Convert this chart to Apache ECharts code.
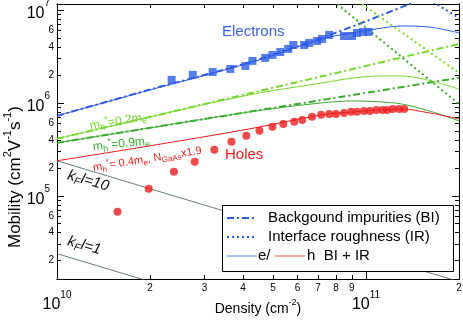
<!DOCTYPE html>
<html>
<head>
<meta charset="utf-8">
<script src="https://cdn.jsdelivr.net/npm/echarts@6.0.0/dist/echarts.min.js"></script>
<style>
  html, body { margin: 0; padding: 0; background: #fff; }
  #chart { width: 463px; height: 320px; }
</style>
</head>
<body>
<div id="chart"></div>
<script>
// measured electrons (squares) and holes (dots)
const electronN = [2.35e10, 2.75e10, 3.19e10, 3.64e10, 4.07e10, 4.29e10, 4.72e10, 4.98e10, 5.28e10, 5.6e10, 5.82e10,
  6.31e10, 6.55e10, 6.95e10, 7.21e10, 7.6e10, 8.49e10, 9.0e10, 9.35e10, 9.78e10, 1.02e11];
const electronMu = [1.77e6, 2.0e6, 2.15e6, 2.32e6, 2.5e6, 2.83e6, 3.05e6, 3.28e6, 3.53e6, 3.81e6, 4.2e6,
  4.2e6, 4.42e6, 4.64e6, 4.88e6, 5.39e6, 5.25e6, 5.25e6, 5.66e6, 5.8e6, 5.8e6];
const holeN = [1.57e10, 1.98e10, 2.39e10, 2.79e10, 3.23e10, 3.67e10, 4.1e10, 4.52e10, 4.98e10, 5.4e10, 5.86e10,
  6.22e10, 6.69e10, 7.16e10, 7.6e10, 8.0e10, 8.49e10, 8.95e10, 9.35e10, 9.85e10, 1.03e11, 1.08e11, 1.13e11,
  1.17e11, 1.22e11, 1.28e11, 1.33e11];
const holeMu = [6.73e4, 1.19e5, 1.81e5, 2.32e5, 3.12e5, 3.81e5, 4.42e5, 5.0e5, 5.52e5, 5.94e5, 6.25e5,
  6.56e5, 7.07e5, 7.43e5, 7.61e5, 7.61e5, 7.8e5, 8.0e5, 8.0e5, 8.2e5, 8.2e5, 8.4e5, 8.4e5,
  8.4e5, 8.6e5, 8.6e5, 8.6e5];

// model curves, BI + IR
const modelN = [1e10, 2e10, 4.2e10, 7.2e10, 9.2e10, 1.13e11, 1.3e11, 1.6e11, 2e11];
const electronTotal = [7.25e5, 1.38e6, 2.69e6, 4.88e6, 5.73e6, 6.4e6, 6.73e6, 6.56e6, 5.66e6];
const hole02Total = [4.1e5, 7.07e5, 1.22e6, 1.64e6, 1.86e6, 1.95e6, 1.95e6, 1.75e6, 1.41e6];
const hole09Total = [3.71e5, 5.38e5, 8.0e5, 1.0e6, 1.05e6, 1.02e6, 9.75e5, 8.2e5, 6.4e5];
const hole04Total = [2.38e5, 3.45e5, 5.25e5, 7.43e5, 8.0e5, 8.4e5, 8.6e5, 7.8e5, 6.73e5];

// background impurities only
const electronBIN = [1e10, 2e10, 4.2e10, 7.77e10, 1.41e11];
const electronBI = [7.25e5, 1.39e6, 2.74e6, 5.5e6, 1.19e7];
const holeBIN = [1e10, 2e11];
const hole02BI = [4.1e5, 4.31e6];
const hole09BI = [3.71e5, 1.86e6];

// interface roughness only
const electronIRN = [1.6e11, 2e11];
const electronIR = [1.3e7, 8.2e6];
const hole02IRN = [9.7e10, 2e11];
const hole02IR = [1.16e7, 2.1e6];
const hole09IRN = [8.06e10, 2e11];
const hole09IR = [1.16e7, 9.7e5];

// kF l = const
const kfl10N = [1e10, 2e11];
const kfl10 = [2.38e5, 1.19e4];
const kfl1N = [1e10, 2e10];
const kfl1 = [2.38e4, 1.19e4];

// ticks
const xMinorTicks = [2e10, 3e10, 4e10, 5e10, 6e10, 7e10, 8e10, 9e10, 2e11];
const xMajorTicks = [1e10, 1e11];
const yMinorTicks = [2e4, 3e4, 4e4, 5e4, 6e4, 7e4, 8e4, 9e4, 2e5, 3e5, 4e5, 5e5, 6e5, 7e5, 8e5, 9e5,
  2e6, 3e6, 4e6, 5e6, 6e6, 7e6, 8e6, 9e6];
const yMinorLabels = [2e4, 4e4, 6e4, 2e5, 4e5, 6e5, 2e6, 4e6, 6e6];
const yMajorTicks = [1e5, 1e6, 1e7];

const font = 'Liberation Sans, Arial, sans-serif';
const BLUE = '#2d5be6';
const RED = '#ee1d1d';
const LIME = '#74d92b';
const GREEN = '#3aab2e';
const GREY = '#687a7e';
const DASHDOT = [7, 3, 2, 3];

function pairs (xs, ys) {
  return xs.map((x, i) => [x, ys[i]]);
}

function digit (v) {
  return String(Math.round(v / Math.pow(10, Math.floor(Math.log10(v) + 1e-9))));
}

function power (v) {
  return '{b|10}{s|' + Math.round(Math.log10(v)) + '}';
}

const powerRich = {
  b: {fontSize: 16, fontFamily: font, color: '#000', lineHeight: 23, verticalAlign: 'bottom'},
  s: {fontSize: 10, fontFamily: font, color: '#000', verticalAlign: 'top'}
};

function axis (dim, pos, ticks, len, label) {
  let a = {
    type: 'log',
    logBase: 10,
    position: pos,
    min: dim === 'x' ? 1e10 : 1.27e4,
    max: dim === 'x' ? 2e11 : 1.16e7,
    axisLine: {show: true, onZero: false, lineStyle: {color: '#000', width: 1}},
    axisTick: {show: true, inside: true, length: len, customValues: ticks, lineStyle: {color: '#000', width: 1}},
    axisLabel: {show: false},
    splitLine: {show: false},
    minorTick: {show: false}
  };
  if (label) {
    a.axisLabel = label;
  }
  return a;
}

function line (xs, ys, color, width, type, smooth) {
  return {
    type: 'line',
    data: pairs(xs, ys),
    symbol: 'none',
    smooth: smooth ? 0.35 : false,
    silent: true,
    lineStyle: {color: color, width: width, type: type},
    z: 2
  };
}

function massLabel (x, y, rot, text, color, size) {
  return {
    type: 'text', x: x, y: y, rotation: rot,
    style: {
      text: text, font: size + 'px ' + font, fill: color, verticalAlign: 'middle',
      rich: {
        sub: {fontSize: size - 3, fill: color, padding: [7, 0, 0, 0]},
        sup: {fontSize: size - 3, fill: color, padding: [0, 0, 7, 0]}
      }
    }
  };
}

const chart = echarts.init(document.getElementById('chart'));

chart.setOption({
  animation: false,
  backgroundColor: '#fff',
  grid: {left: 57, right: 4, top: 4, bottom: 41, outerBoundsMode: 'none'},
  xAxis: [
    Object.assign(axis('x', 'bottom', xMinorTicks, 4, {
      show: true, customValues: xMinorTicks, formatter: digit, margin: 4,
      fontSize: 10, fontFamily: font, color: '#000'
    }), {
      name: '{a|Density (cm}{s|-2}{a|)}',
      nameLocation: 'middle',
      nameGap: 15,
      nameTextStyle: {
        rich: {
          a: {fontSize: 14, fontFamily: font, color: '#000', lineHeight: 18, verticalAlign: 'bottom'},
          s: {fontSize: 9, fontFamily: font, color: '#000', verticalAlign: 'top'}
        }
      }
    }),
    axis('x', 'bottom', xMajorTicks, 7, {
      show: true, customValues: xMajorTicks, formatter: power, margin: 11, rich: powerRich
    }),
    axis('x', 'top', xMinorTicks, 4),
    axis('x', 'top', xMajorTicks, 7)
  ],
  yAxis: [
    axis('y', 'left', yMinorTicks, 4, {
      show: true, customValues: yMinorLabels, formatter: digit, margin: 3,
      fontSize: 10, fontFamily: font, color: '#000'
    }),
    axis('y', 'left', yMajorTicks, 7, {
      show: true, customValues: yMajorTicks, formatter: power, margin: 7, rich: powerRich
    }),
    axis('y', 'right', yMinorTicks, 4),
    axis('y', 'right', yMajorTicks, 7)
  ],
  series: [
    line(kfl10N, kfl10, GREY, 1, 'solid'),
    line(kfl1N, kfl1, GREY, 1, 'solid'),
    line(electronBIN, electronBI, BLUE, 2, DASHDOT, true),
    line(holeBIN, hole02BI, LIME, 2, DASHDOT),
    line(holeBIN, hole09BI, GREEN, 2, DASHDOT),
    line(electronIRN, electronIR, BLUE, 2, [2, 3]),
    line(hole02IRN, hole02IR, LIME, 2, [2, 3]),
    line(hole09IRN, hole09IR, GREEN, 2, [2, 3]),
    line(modelN, electronTotal, BLUE, 1, 'solid', true),
    line(modelN, hole02Total, LIME, 1, 'solid', true),
    line(modelN, hole09Total, GREEN, 1, 'solid', true),
    line(modelN, hole04Total, RED, 1, 'solid', true),
    {
      type: 'scatter',
      data: pairs(electronN, electronMu),
      symbol: 'rect',
      symbolSize: 8,
      itemStyle: {color: BLUE},
      z: 3
    },
    {
      type: 'scatter',
      data: pairs(holeN, holeMu),
      symbol: 'circle',
      symbolSize: 8,
      itemStyle: {color: RED},
      z: 3
    }
  ],
  graphic: [
    {
      type: 'text', x: 13, y: 248, rotation: Math.PI / 2,
      style: {
        text: '{a|Mobility (cm}{s|2}{a|V}{s|-1}{a|s}{s|-1}{a|)}', align: 'left', verticalAlign: 'middle',
        rich: {
          a: {fontSize: 17, fontFamily: font, fill: '#000', lineHeight: 21, verticalAlign: 'bottom'},
          s: {fontSize: 11, fontFamily: font, fill: '#000', verticalAlign: 'top'}
        }
      }
    },
    {type: 'text', x: 222, y: 32, style: {text: 'Electrons', font: '15px ' + font, fill: '#3a62dc', verticalAlign: 'middle'}},
    {type: 'text', x: 225, y: 155, style: {text: 'Holes', font: '15px ' + font, fill: RED, verticalAlign: 'middle'}},
    massLabel(90, 126, 0.16, 'm{sub|h}{sup|*}=0.2m{sub|e}', LIME, 12),
    massLabel(93, 147, 0.11, 'm{sub|h}{sup|*}=0.9m{sub|e}', GREEN, 12),
    massLabel(93, 168, 0.16, 'm{sub|h}{sup|*}= 0.4m{sub|e}, N{sub|GaAs}x1.9', RED, 11),
    {
      type: 'text', x: 68, y: 175, rotation: -0.28,
      style: {
        text: 'k{sub|F}l=10', font: 'italic 15px ' + font, fill: '#111', verticalAlign: 'middle',
        rich: {sub: {fontSize: 10, fontStyle: 'italic', fill: '#111', padding: [8, 0, 0, 0]}}
      }
    },
    {
      type: 'text', x: 68, y: 241, rotation: -0.28,
      style: {
        text: 'k{sub|F}l=1', font: 'italic 15px ' + font, fill: '#111', verticalAlign: 'middle',
        rich: {sub: {fontSize: 10, fontStyle: 'italic', fill: '#111', padding: [8, 0, 0, 0]}}
      }
    },
    // legend box
    {type: 'rect', shape: {x: 222.5, y: 205.5, width: 231, height: 66}, style: {fill: '#fff', stroke: '#000', lineWidth: 1}, z: 10},
    {type: 'line', shape: {x1: 227, y1: 218, x2: 256, y2: 218}, style: {stroke: BLUE, lineWidth: 2, lineDash: DASHDOT}, z: 11},
    {type: 'text', x: 268, y: 218, style: {text: 'Backgound impurities (BI)', font: '15px ' + font, fill: '#000', verticalAlign: 'middle'}, z: 11},
    {type: 'line', shape: {x1: 227, y1: 237, x2: 256, y2: 237}, style: {stroke: BLUE, lineWidth: 2, lineDash: [2, 3]}, z: 11},
    {type: 'text', x: 268, y: 237, style: {text: 'Interface roughness (IR)', font: '15px ' + font, fill: '#000', verticalAlign: 'middle'}, z: 11},
    {type: 'line', shape: {x1: 227, y1: 256, x2: 257, y2: 256}, style: {stroke: '#5b7fe8', lineWidth: 1}, z: 11},
    {type: 'text', x: 258, y: 256, style: {text: 'e/', font: '15px ' + font, fill: '#000', verticalAlign: 'middle'}, z: 11},
    {type: 'line', shape: {x1: 275, y1: 256, x2: 305, y2: 256}, style: {stroke: '#f05050', lineWidth: 1}, z: 11},
    {type: 'text', x: 307, y: 256, style: {text: 'h  BI + IR', font: '15px ' + font, fill: '#000', verticalAlign: 'middle'}, z: 11}
  ]
});
</script>
</body>
</html>
